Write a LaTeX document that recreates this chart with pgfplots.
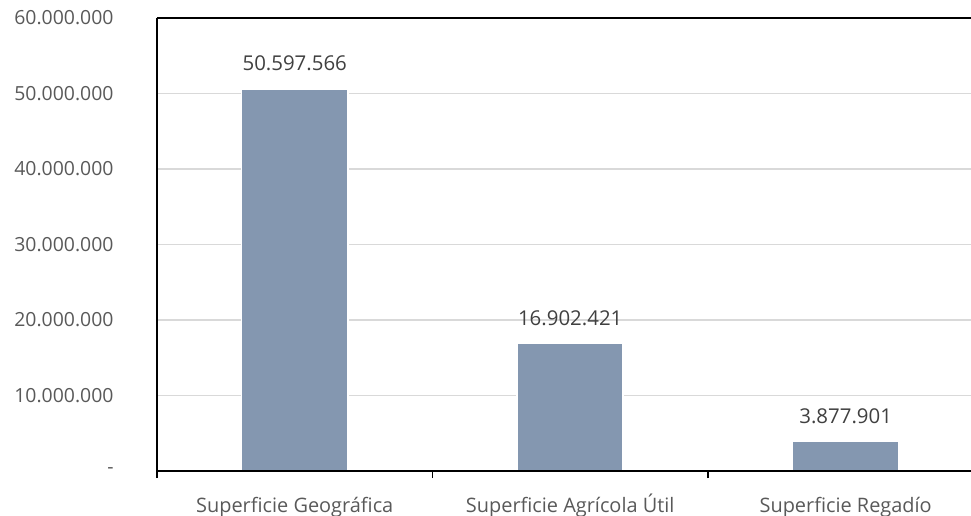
\documentclass[border=0pt]{standalone}
\usepackage{pgfplots}
\pgfplotsset{compat=1.18}
\usepackage{pgfplotstable}
\usepackage{fontspec}
\setmainfont{Open Sans}

\definecolor{barblue}{HTML}{8497B0}
\definecolor{ticktext}{HTML}{595959}
\definecolor{labeltext}{HTML}{404040}
\definecolor{gridgray}{HTML}{D9D9D9}

% superficie (ha)
\pgfplotstableread{
x y label
0 50597566 50.597.566
1 16902421 16.902.421
2 3877901 3.877.901
}\superficies

\begin{document}
\begin{tikzpicture}
  \begin{axis}[
      scale only axis,
      width=814bp, height=453bp,
      xmin=-0.5, xmax=2.455,
      ymin=0, ymax=60000000,
      axis x line=box, axis y line=left,
      axis line style={-, black, line width=1.8bp},
      /pgf/number format/assume math mode=true,
      scaled y ticks=false,
      xtick={0,1,2},
      xticklabels={Superficie Geográfica, Superficie Agrícola Útil, Superficie Regadío},
      minor xtick={-0.5,0.5,1.5},
      xtick pos=left,
      tick align=outside,
      major x tick style={draw=none},
      minor x tick style={black, line width=1.5bp},
      minor tick length=7bp,
      ytick={0,10000000,20000000,30000000,40000000,50000000,60000000},
      yticklabels={{-\hspace{10bp}}, 10.000.000, 20.000.000, 30.000.000, 40.000.000, 50.000.000, 60.000.000},
      ytick style={draw=none},
      ymajorgrids,
      grid style={gridgray, line width=1.7bp},
      yticklabel style={inner sep=0pt, anchor=east, xshift=-39bp,
        text=ticktext, font=\fontsize{19.5}{22}\selectfont},
      xticklabel style={inner sep=0pt, anchor=base, yshift=-37bp,
        text=ticktext, font=\fontsize{20}{22}\selectfont},
      ybar, bar width=0.385,
      point meta=explicit symbolic,
      nodes near coords,
      nodes near coords style={inner sep=0pt, anchor=south, yshift=17bp,
        text=labeltext, font=\fontsize{20.5}{24}\selectfont},
    ]
    \addplot[fill=barblue, draw=white, line width=1.5bp]
      table[x=x, y=y, meta=label] {\superficies};
    \draw[black, line width=1.8bp] (rel axis cs:0,0) -- (rel axis cs:1,0);
  \end{axis}
  \pgfresetboundingbox
  \useasboundingbox (-157bp,-45bp) rectangle (814bp,471bp);
\end{tikzpicture}
\end{document}
